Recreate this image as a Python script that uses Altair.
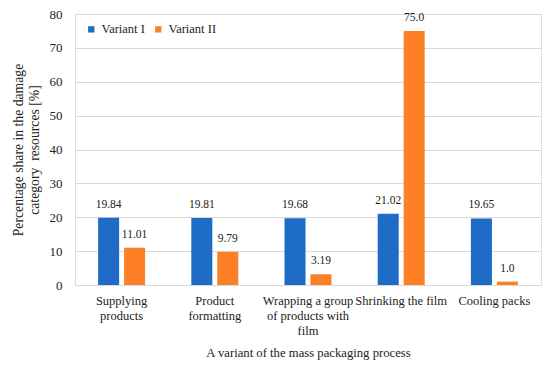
import altair as alt
import pandas as pd

categories = ["Supplying products", "Product formatting", "Wrapping a group of products with film", "Shrinking the film", "Cooling packs"]
cat_labels = [["Supplying", "products"], ["Product", "formatting"], ["Wrapping a group", "of products with", "film"], ["Shrinking the film"], ["Cooling packs"]]
series = ["Variant I", "Variant II"]
variant1 = [19.84, 19.81, 19.68, 21.02, 19.65]
variant2 = [11.01, 9.79, 3.19, 75.0, 1.0]
labels1 = ["19.84", "19.81", "19.68", "21.02", "19.65"]
labels2 = ["11.01", "9.79", "3.19", "75.0", "1.0"]

rows = []
for i, c in enumerate(categories):
    rows.append({"cat": c, "series": series[0], "value": variant1[i], "label": labels1[i]})
    rows.append({"cat": c, "series": series[1], "value": variant2[i], "label": labels2[i]})
df = pd.DataFrame(rows)

label_expr = "{" + ", ".join(
    '"%s": %s' % (c, "[" + ", ".join('"%s"' % s for s in l) + "]") for c, l in zip(categories, cat_labels)
) + "}[datum.value]"

FONT = "Liberation Serif"

x = alt.X("cat:N", sort=categories, title="A variant of the mass packaging process",
          scale=alt.Scale(paddingInner=0, paddingOuter=0),
          axis=alt.Axis(labelAngle=0, labelExpr=label_expr, domain=False, ticks=False,
                        labelPadding=9, labelFontSize=12.5, labelLineHeight=15, labelColor="#222",
                        titleFontSize=12.7, titleFontWeight="normal", titlePadding=10, titleColor="#222",
                        labelFont=FONT, titleFont=FONT))
xo = alt.XOffset("series:N", sort=series, scale=alt.Scale(paddingInner=0.19, paddingOuter=0.89))
y = alt.Y("value:Q", scale=alt.Scale(domain=[0, 80]),
          title=["Percentage share in the damage", "category\u00a0 resources [%]"],
          axis=alt.Axis(values=[0, 10, 20, 30, 40, 50, 60, 70, 80], domain=False, ticks=False,
                        labelPadding=13, labelFontSize=13, labelColor="#222", labelFont=FONT,
                        titleFont=FONT, titleFontSize=13.7, titleFontWeight="normal", titleColor="#222",
                        titlePadding=8, titleLineHeight=16, titleAlign="center", titleAnchor="middle",
                        gridColor="#d9d9d9", gridWidth=1.2))
color = alt.Color("series:N", sort=series,
                  scale=alt.Scale(domain=series, range=["#1f6cc7", "#fd7f26"]),
                  legend=alt.Legend(title=None, orient="none", legendX=10, legendY=9, direction="horizontal",
                                    symbolType="square", symbolSize=40, labelFontSize=12.5, labelFont=FONT,
                                    labelColor="#222", columnPadding=7, labelOffset=4, symbolStrokeWidth=0))

base = alt.Chart(df)
bars = base.mark_bar().encode(x=x, xOffset=xo, y=y, color=color)
text = base.mark_text(dy=-13, fontSize=11.5, font=FONT, color="#222").encode(
    x=x, xOffset=xo, y=y, text="label:N")

chart = alt.layer(bars, text).properties(
    width=466, height=271,
    autosize=alt.AutoSizeParams(type="none"),
    padding={"left": 67, "top": 6, "right": 1, "bottom": 76},
).configure_view(stroke=None).configure(background="white", font=FONT)

chart.save("out.html", embed_options={"renderer": "svg", "actions": False})
